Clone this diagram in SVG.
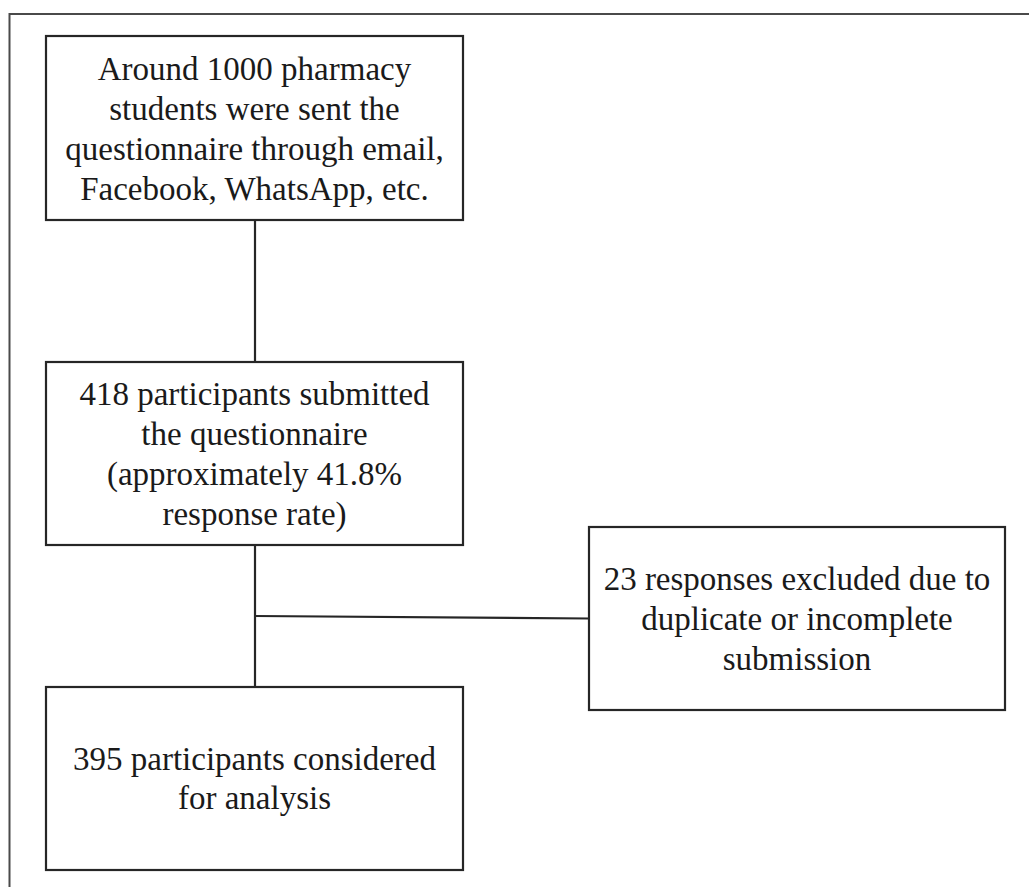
<svg xmlns="http://www.w3.org/2000/svg" width="1029" height="887" viewBox="0 0 1029 887">
<style>
.box{fill:#fff;stroke:#262626;stroke-width:2.2}
.t{font-family:"Liberation Serif","Times New Roman",serif;font-size:33px;fill:#1a1a1a;text-anchor:middle}
.c{stroke:#262626;stroke-width:2.2;fill:none}
.frame{stroke:#4a4a4a;stroke-width:2;fill:none}
</style>
<rect width="1029" height="887" fill="#fff"/>
<path class="frame" d="M1029,14 H9.5 V887"/>
<g id="connectors">
<line class="c" x1="255" y1="220" x2="255" y2="362"/>
<line class="c" x1="255" y1="545" x2="255" y2="687"/>
<line class="c" x1="255" y1="616" x2="589" y2="618.5"/>
</g>
<g id="node1">
<rect class="box" x="46" y="36" width="417" height="184"/>
<text class="t"><tspan x="254.5" y="80">Around 1000 pharmacy</tspan><tspan x="254.5" y="120">students were sent the</tspan><tspan x="254.5" y="160">questionnaire through email,</tspan><tspan x="254.5" y="200">Facebook, WhatsApp, etc.</tspan></text>
</g>
<g id="node2">
<rect class="box" x="46" y="362" width="417" height="183"/>
<text class="t"><tspan x="254.5" y="405">418 participants submitted</tspan><tspan x="254.5" y="445">the questionnaire</tspan><tspan x="254.5" y="485">(approximately 41.8%</tspan><tspan x="254.5" y="525">response rate)</tspan></text>
</g>
<g id="node3">
<rect class="box" x="589" y="527" width="416" height="183"/>
<text class="t"><tspan x="797" y="590">23 responses excluded due to</tspan><tspan x="797" y="630">duplicate or incomplete</tspan><tspan x="797" y="670">submission</tspan></text>
</g>
<g id="node4">
<rect class="box" x="46" y="687" width="417" height="183"/>
<text class="t"><tspan x="254.5" y="770">395 participants considered</tspan><tspan x="254.5" y="809">for analysis</tspan></text>
</g>
</svg>
